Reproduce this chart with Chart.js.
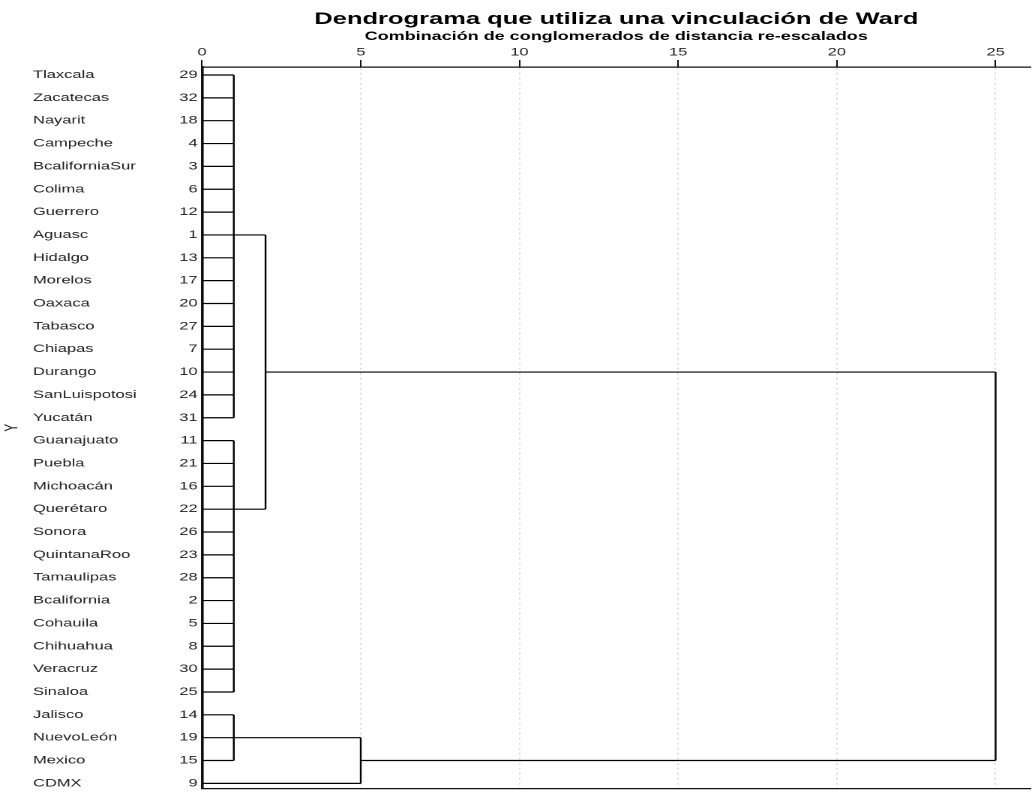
<!DOCTYPE html>
<html>
<head>
<meta charset="utf-8">
<script src="https://cdn.jsdelivr.net/npm/chart.js@4.4.1/dist/chart.umd.min.js"></script>
<style>
  html, body { margin: 0; padding: 0; background: #fff; overflow: hidden; }
  /* the original picture is stretched sideways, so the whole chart is too */
  #wrap { width: 688px; height: 798px; transform: scaleX(1.5); transform-origin: 0 0; }
</style>
</head>
<body>
<div id="wrap"><canvas id="myChart"></canvas></div>
<script>
"use strict";

const names = [
  "Tlaxcala", "Zacatecas", "Nayarit", "Campeche", "BcaliforniaSur", "Colima",
  "Guerrero", "Aguasc", "Hidalgo", "Morelos", "Oaxaca", "Tabasco", "Chiapas",
  "Durango", "SanLuispotosi", "Yucatán", "Guanajuato", "Puebla", "Michoacán",
  "Querétaro", "Sonora", "QuintanaRoo", "Tamaulipas", "Bcalifornia", "Cohauila",
  "Chihuahua", "Veracruz", "Sinaloa", "Jalisco", "NuevoLeón", "Mexico", "CDMX",
];
const ids = [29, 32, 18, 4, 3, 6, 12, 1, 13, 17, 20, 27, 7, 10, 24, 31, 11, 21, 16, 22,
  26, 23, 28, 2, 5, 8, 30, 25, 14, 19, 15, 9];
const xTicks = [0, 5, 10, 15, 20, 25];

// clusters: kids are leaf rows (1..32) or earlier clusters ("n0", "n1", ...)
const nodeKids = [
  [1, 2, 3, 4, 5, 6, 7, 8, 9, 10, 11, 12, 13, 14, 15, 16],
  [17, 18, 19, 20, 21, 22, 23, 24, 25, 26, 27, 28],
  [29, 30, 31],
  ["n0", "n1"],
  ["n2", 32],
  ["n3", "n4"],
];
const nodeDist = [1, 1, 1, 2, 5, 25];
const nodeRow = [8, 20, 30, 14, 31, 22];

function kidPos(k) {
  if (typeof k === "number") return { row: k, dist: 0 };
  const i = Number(k.slice(1));
  return { row: nodeRow[i], dist: nodeDist[i] };
}

// one line dataset, pieces split by empty points
const segments = [];
nodeKids.forEach(function (kids, i) {
  const pos = kids.map(kidPos);
  const rows = pos.map((p) => p.row);
  segments.push({ x: nodeDist[i], y: Math.min(...rows) }, { x: nodeDist[i], y: Math.max(...rows) }, { x: null, y: null });
  pos.forEach(function (p) {
    segments.push({ x: p.dist, y: p.row }, { x: nodeDist[i], y: p.row }, { x: null, y: null });
  });
});

const family = "'Liberation Sans', Arial, sans-serif";
const font = { family: family, size: 11 };
const rowTicks = function (scale) {
  scale.ticks = names.map((n, i) => ({ value: i + 1 }));
};

const config = {
  type: "scatter",
  data: {
    datasets: [
      {
        data: segments,
        showLine: true,
        spanGaps: false,
        borderColor: "#000",
        borderWidth: 1.2,
        pointRadius: 0,
        pointHoverRadius: 0,
      },
    ],
  },
  options: {
    responsive: true,
    maintainAspectRatio: false,
    animation: false,
    devicePixelRatio: 2,
    events: [],
    layout: { padding: { left: 0, right: 1, top: 0, bottom: 2 } },
    plugins: {
      legend: { display: false },
      tooltip: { enabled: false },
      title: {
        display: true,
        text: "Dendrograma que utiliza una vinculación de Ward",
        fullSize: false,
        color: "#000",
        font: { family: family, size: 17, weight: "bold" },
        padding: { top: 9, bottom: 0 },
      },
      subtitle: {
        display: true,
        text: "Combinación de conglomerados de distancia re-escalados",
        fullSize: false,
        color: "#000",
        font: { family: family, size: 12, weight: "bold" },
        padding: { top: 0, bottom: 1 },
      },
    },
    scales: {
      x: {
        type: "linear",
        position: "top",
        min: 0,
        max: 26.1,
        afterBuildTicks: function (s) {
          s.ticks = xTicks.map((v) => ({ value: v }));
        },
        grid: { color: "#dedede", tickColor: "#111", tickLength: 7, lineWidth: 1 },
        border: { color: "#111", width: 1.3, dash: [2, 3] },
        ticks: { font: font, color: "#222", padding: 1 },
      },
      x2: {
        type: "linear",
        axis: "x",
        position: "bottom",
        min: 0,
        max: 26.1,
        grid: { display: false, drawTicks: false },
        ticks: { display: false },
        border: { color: "#111", width: 1.3 },
      },
      y: {
        type: "linear",
        position: "left",
        reverse: true,
        min: 0.65,
        max: 32.22,
        weight: 1,
        afterBuildTicks: rowTicks,
        afterFit: function (s) {
          s.width = 39.7;
        },
        grid: { display: false, drawTicks: false },
        border: { color: "#111", width: 1.8 },
        ticks: { font: font, color: "#222", padding: 3, autoSkip: false, callback: (v) => ids[v - 1] },
      },
      yName: {
        type: "linear",
        axis: "y",
        position: "left",
        reverse: true,
        min: 0.65,
        max: 32.22,
        weight: 2,
        afterBuildTicks: rowTicks,
        afterFit: function (s) {
          s.width = 73;
        },
        grid: { display: false, drawTicks: false },
        border: { display: false },
        ticks: { font: font, color: "#222", padding: 0, autoSkip: false, crossAlign: "far", callback: (v) => names[v - 1] },
      },
      yTitle: {
        type: "linear",
        axis: "y",
        position: "left",
        min: 0,
        max: 1,
        weight: 3,
        afterFit: function (s) {
          s.width = 22;
        },
        grid: { display: false, drawTicks: false },
        border: { display: false },
        ticks: { display: false },
        title: { display: true, text: "Y", font: { family: family, size: 12 }, color: "#222", padding: { top: 1, bottom: 0 } },
      },
    },
  },
};

const chart = new Chart(document.getElementById("myChart"), config);
</script>
</body>
</html>
